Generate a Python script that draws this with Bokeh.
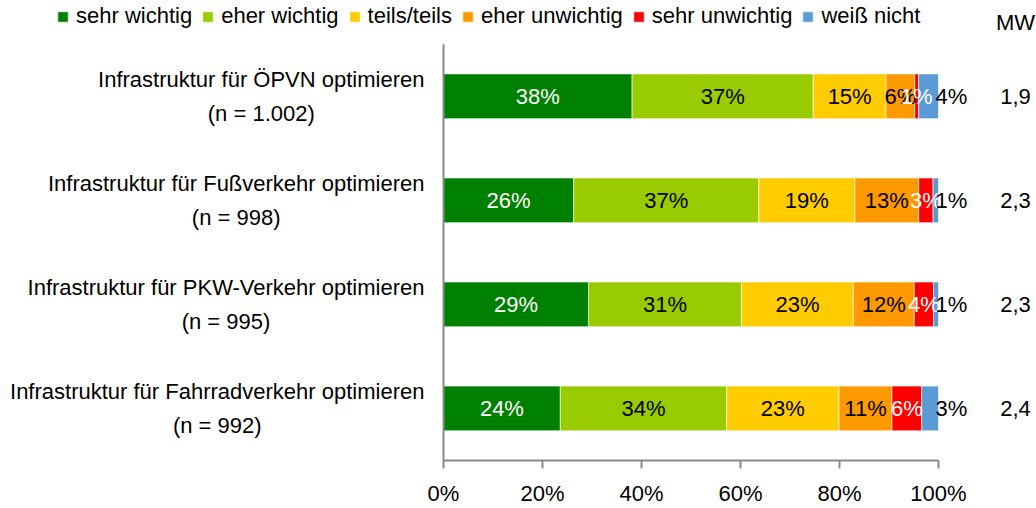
from bokeh.plotting import figure
from bokeh.models import ColumnDataSource, Legend, LegendItem, FixedTicker, CustomJSTickFormatter
from bokeh.core.properties import value
from bokeh.embed import file_html
from bokeh.resources import INLINE

# ---------------- data ----------------
categories = [
    "Infrastruktur für ÖPVN optimieren",
    "Infrastruktur für Fußverkehr optimieren",
    "Infrastruktur für PKW-Verkehr optimieren",
    "Infrastruktur für Fahrradverkehr optimieren",
]
n_values = ["1.002", "998", "995", "992"]
levels = ["sehr wichtig", "eher wichtig", "teils/teils", "eher unwichtig", "sehr unwichtig", "weiß nicht"]
sehr_wichtig = [38.1, 26.3, 29.3, 23.6]
eher_wichtig = [36.6, 37.4, 30.9, 33.6]
teils_teils = [14.7, 19.4, 22.6, 22.7]
eher_unwichtig = [5.8, 12.9, 12.3, 10.7]
sehr_unwichtig = [0.8, 2.9, 3.9, 6.0]
weiss_nicht = [4.0, 1.1, 1.0, 3.4]
mw_values = ["1,9", "2,3", "2,3", "2,4"]
x_ticks = [0, 20, 40, 60, 80, 100]

# ---------------- style ----------------
colors = ["#008000", "#99CC00", "#FFCC00", "#FF9900", "#FF0000", "#5B9BD5"]
label_colors = ["white", "black", "black", "black", "white", "black"]
FONT = "Liberation Sans"
FS = "22px"
AXIS_COLOR = "#898989"

series = [sehr_wichtig, eher_wichtig, teils_teils, eher_unwichtig, sehr_unwichtig, weiss_nicht]
ypos = list(range(len(categories) - 1, -1, -1))  # first category on top

W, H = 1036, 508
FRAME_H = 463
X0_PX, X100_PX = 443, 938
px_per_x = (X100_PX - X0_PX) / 100.0
x_start = -X0_PX / px_per_x
x_end = 100 + (W - X100_PX) / px_per_x
AXIS_TOP_PX = 44
px_per_y = (FRAME_H - AXIS_TOP_PX) / float(len(categories))
y_start = -0.5
y_top_axis = len(categories) - 0.5
y_end = y_top_axis + AXIS_TOP_PX / px_per_y

p = figure(width=W, height=H, x_range=(x_start, x_end), y_range=(y_start, y_end),
           output_backend="svg", toolbar_location=None, min_border=0)
p.outline_line_color = None
p.xgrid.visible = False
p.ygrid.visible = False
p.yaxis.visible = False

# stacked bars
left = [0.0] * len(categories)
renderers = []
lab_x, lab_y, lab_t, lab_c, lab_align, lab_off = [], [], [], [], [], []
for k, vals in enumerate(series):
    right = [l + v for l, v in zip(left, vals)]
    src = ColumnDataSource(dict(y=ypos, left=left, right=right))
    r = p.hbar(y="y", left="left", right="right", height=0.43, source=src,
               fill_color=colors[k], line_color="white", line_alpha=0.6, line_width=1)
    renderers.append(r)
    for i, v in enumerate(vals):
        if k == len(series) - 1:
            lab_x.append(right[i]); lab_align.append("left"); lab_off.append(-3)
        else:
            lab_x.append((left[i] + right[i]) / 2.0); lab_align.append("center"); lab_off.append(0)
        lab_y.append(ypos[i])
        lab_t.append(f"{v:.0f}%")
        lab_c.append(label_colors[k])
    left = right

lsrc = ColumnDataSource(dict(x=lab_x, y=lab_y, t=lab_t, c=lab_c, a=lab_align, o=lab_off))
p.text(x="x", y="y", text="t", source=lsrc, text_color="c", text_align="a", x_offset="o",
       text_baseline="middle", text_font=value(FONT), text_font_size=FS)

# category labels
cat_text = [f"{c}\n(n = {n})" for c, n in zip(categories, n_values)]
csrc = ColumnDataSource(dict(x=[0] * len(categories), y=ypos, t=cat_text))
p.text(x="x", y="y", text="t", source=csrc, x_offset=-19, anchor="center_right",
       text_align="center", text_baseline="middle", text_line_height=1.35,
       text_font=value(FONT), text_font_size=FS, text_color="black")

# MW column
MW_X = 100 + 77 / px_per_x
msrc = ColumnDataSource(dict(x=[MW_X] * len(categories), y=ypos, t=mw_values))
p.text(x="x", y="y", text="t", source=msrc, text_align="center", text_baseline="middle",
       text_font=value(FONT), text_font_size=FS, text_color="black")
p.text(x=[MW_X], y=[y_end - 22 / px_per_y], text=["MW"], text_align="center", text_baseline="middle",
       text_font=value(FONT), text_font_size=FS, text_color="black")

# vertical axis line at 0 %
p.segment(x0=[0], y0=[y_start], x1=[0], y1=[y_top_axis], line_color=AXIS_COLOR, line_width=2)

# x axis
xa = p.xaxis[0]
xa.bounds = (0, 100)
xa.ticker = FixedTicker(ticks=x_ticks)
xa.formatter = CustomJSTickFormatter(code="return tick.toFixed(0) + '%';")
xa.axis_line_color = AXIS_COLOR
xa.axis_line_width = 2
xa.major_tick_line_color = AXIS_COLOR
xa.major_tick_line_width = 2
xa.major_tick_in = 0
xa.major_tick_out = 8
xa.minor_tick_line_color = None
xa.major_label_standoff = 12
xa.major_label_text_font = FONT
xa.major_label_text_font_size = FS
xa.major_label_text_color = "black"

# legend
legend = Legend(items=[LegendItem(label=lv, renderers=[r]) for lv, r in zip(levels, renderers)],
                orientation="horizontal", location=(56, FRAME_H - 32),
                glyph_width=13, glyph_height=13, label_standoff=7, spacing=9,
                padding=0, margin=0, border_line_alpha=0, background_fill_alpha=0,
                label_text_font=FONT, label_text_font_size=FS, label_text_color="black")
p.add_layout(legend)

open("out.html", "w").write(file_html(p, INLINE))
